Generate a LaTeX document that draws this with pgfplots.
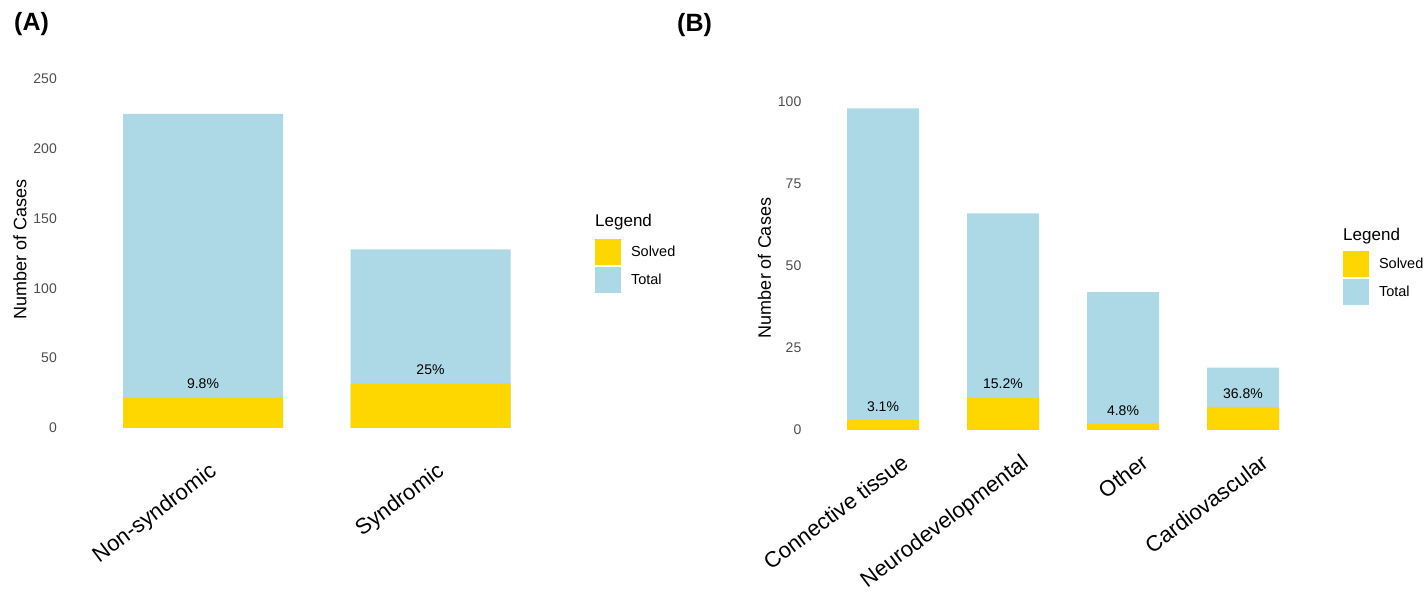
\documentclass[border=0pt]{standalone}
\usepackage{fontspec}
\setmainfont{Liberation Sans}
\usepackage{pgfplots}
\pgfplotsset{compat=1.18}
\definecolor{solvedc}{HTML}{FFD700}
\definecolor{totalc}{HTML}{ADD8E6}
\definecolor{ticktext}{HTML}{4D4D4D}

\pgfplotsset{
  panel/.style={
    scale only axis,
    clip=false,
    anchor=south west,
    axis line style={draw=none},
    tick style={draw=none},
    major tick length=0pt,
    /pgf/number format/assume math mode=true,
    yticklabel style={font=\fontsize{14pt}{16pt}\selectfont, text=ticktext, anchor=east, inner sep=0pt, xshift=-9.5pt},
    xticklabel style={font=\fontsize{22pt}{24pt}\selectfont, text=black, rotate=37, anchor=north east, inner sep=0pt, yshift=-15pt},
    ylabel={Number of Cases},
    legend image code/.code={\fill[##1,draw=none] (0pt,-13pt) rectangle (26pt,13pt); \path (36pt,0pt);},
    legend style={draw=none, fill=none, inner sep=0pt, outer sep=0pt, row sep=2pt,
      font=\fontsize{14.5pt}{16pt}\selectfont, cells={anchor=west},
      nodes={inner sep=0pt}},
    reverse legend,
  },
  solvedbar/.style={fill=solvedc, draw=none, ybar, bar shift=0pt,
    nodes near coords, point meta=explicit symbolic,
    every node near coord/.append style={font=\fontsize{14pt}{16pt}\selectfont, text=black, anchor=south, inner sep=0pt, yshift=8pt}},
  totalbar/.style={fill=totalc, draw=none, ybar, bar shift=0pt},
}

\begin{document}
\begin{tikzpicture}
\useasboundingbox (0,0) rectangle (1426pt,-595pt);

% Panel A
\begin{axis}[panel,
  at={(66.5pt,-446.1pt)},
  width=500.5pt, height=418.8pt,
  xmin=-0.6, xmax=1.6, ymin=-13, ymax=287,
  ytick={0,50,100,150,200,250},
  xtick={0,1}, xticklabels={Non-syndromic,Syndromic},
  xticklabel style={xshift=-5pt},
  every axis y label/.style={at={(axis description cs:-0.0929,0.47)}, rotate=90, anchor=center, font=\fontsize{18pt}{20pt}\selectfont},
  legend style={at={(axis description cs:1.056,0.4945)}, anchor=north west},
]
\addplot[totalbar, bar width=160pt] coordinates {(0,225) (1,128)};
\addlegendentry{Total}
\addplot[solvedbar, bar width=160pt] coordinates {(0,22) [9.8\%] (1,32) [25\%]};
\addlegendentry{Solved}
\node[anchor=base west, inner sep=0pt, font=\fontsize{17pt}{19pt}\selectfont] at (axis description cs:1.056,0.5232) {Legend};
\end{axis}

% Panel B
\begin{axis}[panel,
  at={(811pt,-447pt)},
  width=504pt, height=376.9pt,
  xmin=-0.6, xmax=3.6, ymin=-5.2, ymax=109.7,
  ytick={0,25,50,75,100},
  xtick={0,1,2,3}, xticklabels={Connective tissue,Neurodevelopmental,Other,Cardiovascular},
  xticklabel style={xshift=10pt},
  every axis y label/.style={at={(axis description cs:-0.0923,0.475)}, rotate=90, anchor=center, font=\fontsize{18pt}{20pt}\selectfont},
  legend style={at={(axis description cs:1.0556,0.520)}, anchor=north west},
]
\addplot[totalbar, bar width=72pt] coordinates {(0,98) (1,66) (2,42) (3,19)};
\addlegendentry{Total}
\addplot[solvedbar, bar width=72pt] coordinates {(0,3) [3.1\%] (1,10) [15.2\%] (2,2) [4.8\%] (3,7) [36.8\%]};
\addlegendentry{Solved}
\node[anchor=base west, inner sep=0pt, font=\fontsize{17pt}{19pt}\selectfont] at (axis description cs:1.0556,0.549) {Legend};
\end{axis}

\node[anchor=north west, inner sep=0pt, font=\fontsize{25pt}{27pt}\selectfont\bfseries] at (14pt,-12pt) {(A)};
\node[anchor=north west, inner sep=0pt, font=\fontsize{25pt}{27pt}\selectfont\bfseries] at (677pt,-13pt) {(B)};
\end{tikzpicture}
\end{document}
